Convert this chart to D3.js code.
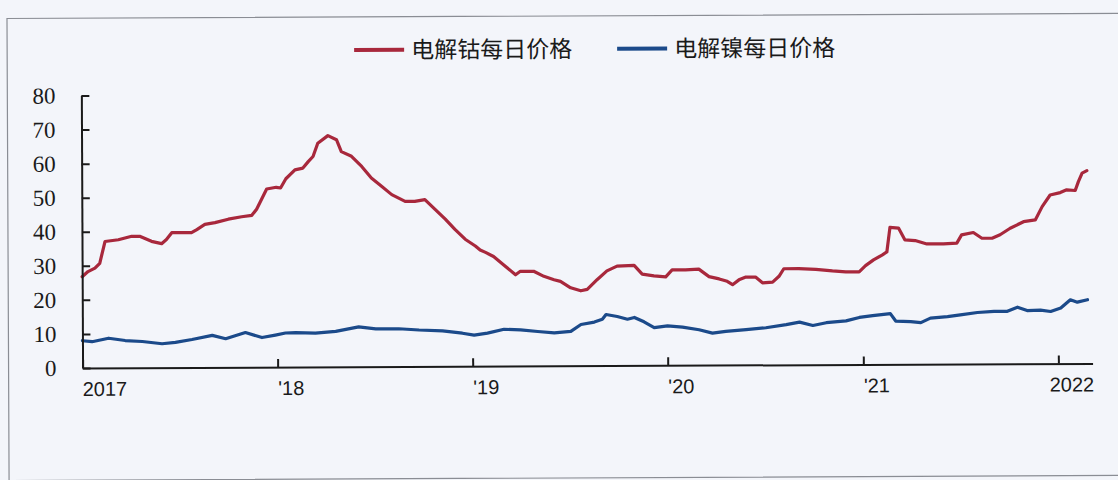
<!DOCTYPE html>
<html>
<head>
<meta charset="utf-8">
<script src="https://cdn.jsdelivr.net/npm/d3@7/dist/d3.min.js"></script>
<style>
  html, body { margin: 0; padding: 0; background: #f3f5fa; }
  svg { display: block; }
</style>
</head>
<body>
<svg id="chart" width="1118" height="480"></svg>
<script>
// 电解钴 / 电解镍 每日价格 (万元/吨)
const cobaltDates = [
  "2017-01-01","2017-01-12","2017-01-25","2017-02-03","2017-02-13","2017-03-10","2017-04-04","2017-04-19",
  "2017-05-11","2017-05-30","2017-06-08","2017-06-18","2017-07-25","2017-08-04","2017-08-19","2017-09-07",
  "2017-10-02","2017-10-27","2017-11-15","2017-11-24","2017-12-13","2017-12-31","2018-01-08","2018-01-18",
  "2018-02-04","2018-02-19","2018-03-01","2018-03-10","2018-03-19","2018-04-07","2018-04-23","2018-05-02",
  "2018-05-21","2018-06-09","2018-06-27","2018-07-16","2018-08-04","2018-08-29","2018-09-16","2018-10-05",
  "2018-10-24","2018-11-12","2018-11-30","2018-12-19","2019-01-07","2019-01-16","2019-01-26","2019-02-10",
  "2019-03-01","2019-03-23","2019-04-01","2019-04-26","2019-05-15","2019-06-03","2019-06-15","2019-07-04",
  "2019-07-23","2019-08-04","2019-08-23","2019-09-10","2019-09-29","2019-10-31","2019-11-15","2019-12-07",
  "2019-12-29","2020-01-10","2020-02-04","2020-02-29","2020-03-19","2020-04-07","2020-04-22","2020-05-02",
  "2020-05-14","2020-05-27","2020-06-14","2020-06-27","2020-07-16","2020-07-28","2020-08-06","2020-09-03",
  "2020-10-05","2020-11-05","2020-11-30","2020-12-25","2021-01-06","2021-01-21","2021-02-06","2021-02-15",
  "2021-02-21","2021-03-09","2021-03-21","2021-04-09","2021-05-01","2021-06-01","2021-06-26","2021-07-05",
  "2021-07-27","2021-08-12","2021-08-31","2021-09-15","2021-10-04","2021-10-29","2021-11-20","2021-12-03",
  "2021-12-18","2022-01-06","2022-01-18","2022-02-03","2022-02-09","2022-02-16","2022-02-25"
];
const cobaltValues = [
  26.8, 28.3, 29.3, 30.7, 37.1, 37.6, 38.6, 38.6,
  37.1, 36.4, 37.6, 39.6, 39.6, 40.5, 42.0, 42.5,
  43.5, 44.2, 44.6, 46.4, 52.3, 52.8, 52.6, 55.3,
  57.9, 58.4, 60.3, 61.8, 65.7, 67.9, 66.7, 63.2,
  61.8, 58.8, 55.4, 53.0, 50.5, 48.5, 48.5, 49.0,
  46.1, 43.2, 40.2, 37.3, 35.3, 34.1, 33.4, 32.2,
  29.7, 26.8, 27.8, 27.8, 26.3, 25.3, 24.8, 22.9,
  22.0, 22.4, 25.3, 27.8, 29.2, 29.4, 26.8, 26.3,
  26.0, 28.0, 28.0, 28.2, 26.0, 25.3, 24.6, 23.6,
  25.0, 25.8, 25.8, 24.1, 24.3, 26.0, 28.2, 28.2,
  28.0, 27.5, 27.2, 27.2, 29.0, 30.7, 32.1, 33.0,
  40.2, 40.0, 36.5, 36.3, 35.3, 35.3, 35.5, 37.9,
  38.6, 36.9, 36.9, 37.9, 39.8, 41.7, 42.2, 46.1,
  49.5, 50.2, 51.0, 50.8, 53.4, 55.9, 56.6
];

const nickelDates = [
  "2017-01-01","2017-01-19","2017-02-19","2017-03-22","2017-04-23","2017-05-30","2017-06-24","2017-07-25",
  "2017-09-01","2017-09-26","2017-11-02","2017-12-03","2017-12-28","2018-01-16","2018-02-04","2018-03-13",
  "2018-04-20","2018-06-02","2018-07-04","2018-08-16","2018-09-23","2018-11-06","2018-12-13","2019-01-04",
  "2019-01-29","2019-03-01","2019-04-01","2019-05-03","2019-06-03","2019-07-04","2019-07-23","2019-08-17",
  "2019-09-01","2019-09-08","2019-09-29","2019-10-18","2019-10-31","2019-11-18","2019-12-07","2020-01-01",
  "2020-01-29","2020-02-29","2020-03-25","2020-04-19","2020-05-27","2020-07-03","2020-08-10","2020-09-04",
  "2020-09-29","2020-10-24","2020-11-30","2020-12-25","2021-01-19","2021-02-21","2021-03-03","2021-03-31",
  "2021-04-19","2021-05-07","2021-06-08","2021-07-02","2021-08-03","2021-09-03","2021-09-28","2021-10-17",
  "2021-11-04","2021-11-29","2021-12-18","2022-01-06","2022-01-24","2022-02-06","2022-02-25"
];
const nickelValues = [
  8.0, 7.7, 8.7, 8.0, 7.7, 7.0, 7.4, 8.2,
  9.4, 8.4, 10.2, 8.7, 9.4, 10.0, 10.1, 9.9,
  10.4, 11.7, 11.1, 11.1, 10.7, 10.4, 9.7, 9.1,
  9.7, 10.8, 10.6, 10.1, 9.7, 10.1, 12.1, 12.8,
  13.6, 15.0, 14.4, 13.6, 14.1, 12.8, 11.1, 11.6,
  11.2, 10.4, 9.4, 9.9, 10.4, 10.9, 11.8, 12.5,
  11.5, 12.3, 12.8, 13.8, 14.3, 14.9, 12.7, 12.5,
  12.2, 13.5, 13.9, 14.4, 15.1, 15.4, 15.4, 16.6,
  15.6, 15.7, 15.3, 16.3, 18.7, 18.0, 18.7
];

const yTicks = [0, 10, 20, 30, 40, 50, 60, 70, 80];
const xTickYears = ["2017", "2018", "2019", "2020", "2021", "2022"];
const xTickLabels = ["2017", "'18", "'19", "'20", "'21", "2022"];
const seriesNames = ["电解钴每日价格", "电解镍每日价格"];
const seriesColors = ["#a8283c", "#1b4a8a"];

const parse = d3.timeParse("%Y-%m-%d");
const cobalt = cobaltDates.map((d, i) => ({ date: parse(d), value: cobaltValues[i] }));
const nickel = nickelDates.map((d, i) => ({ date: parse(d), value: nickelValues[i] }));

const svg = d3.select("#chart");
svg.append("rect").attr("width", 1118).attr("height", 480).attr("fill", "#f3f5fa");

// whole page sits very slightly tilted
const root = svg.append("g").attr("transform", "rotate(-0.26 559 240)");

// outer frame
root.append("rect")
  .attr("x", 8).attr("y", 16).attr("width", 1200).attr("height", 462)
  .attr("fill", "none").attr("stroke", "#8a8d94").attr("stroke-width", 1.2);

const x = d3.scaleTime()
  .domain([new Date(2017, 0, 1), new Date(2022, 2, 6)])
  .range([82, 1092]);
const y = d3.scaleLinear().domain([0, 80]).range([365.8, 93.4]);

// series lines
const line = d3.line().x(d => x(d.date)).y(d => y(d.value)).curve(d3.curveLinear);
[cobalt, nickel].forEach((s, i) => {
  root.append("path")
    .datum(s)
    .attr("fill", "none")
    .attr("stroke", seriesColors[i])
    .attr("stroke-width", 3.2)
    .attr("stroke-linejoin", "round")
    .attr("stroke-linecap", "round")
    .attr("d", line);
});

// y axis
const yAxis = root.append("g")
  .attr("transform", `translate(${x.range()[0]},0)`)
  .call(d3.axisLeft(y).tickValues(yTicks).tickSizeInner(-8).tickSizeOuter(0).tickPadding(26));
yAxis.select(".domain").attr("stroke", "#1a1a1a").attr("stroke-width", 2);
yAxis.selectAll(".tick line").attr("stroke", "#1a1a1a").attr("stroke-width", 2);
yAxis.selectAll(".tick text")
  .attr("font-family", "'Liberation Serif', 'Times New Roman', serif")
  .attr("font-size", 23)
  .attr("fill", "#1a1a1a");

// x axis
const yearTicks = xTickYears.map(s => new Date(+s, 0, 1));
const xAxis = root.append("g")
  .attr("transform", `translate(0,${y(0)})`)
  .call(d3.axisBottom(x).tickValues(yearTicks).tickSizeInner(-8).tickSizeOuter(0)
    .tickFormat((d, i) => xTickLabels[i]));
xAxis.select(".domain").attr("stroke", "#1a1a1a").attr("stroke-width", 2);
xAxis.selectAll(".tick line").attr("stroke", "#1a1a1a").attr("stroke-width", 2);
xAxis.selectAll(".tick text")
  .attr("font-family", "'Liberation Sans', Arial, sans-serif")
  .attr("font-size", 20)
  .attr("fill", "#1a1a1a")
  .attr("y", 28)
  .attr("dy", 0)
  .attr("text-anchor", "middle")
  .attr("x", function () {
    const w = this.getComputedTextLength();
    const tickX = +this.parentNode.getAttribute("transform").match(/translate\(([-\d.]+)/)[1];
    return Math.max(13, x.range()[0] - tickX + w / 2);
  });

// legend
const legend = root.append("g").attr("transform", "translate(0,49)");
const legendX = [355, 618];
seriesNames.forEach((name, i) => {
  const g = legend.append("g").attr("transform", `translate(${legendX[i]},0)`);
  g.append("line").attr("x1", 0).attr("x2", 50).attr("y1", 0).attr("y2", 0)
    .attr("stroke", seriesColors[i]).attr("stroke-width", 4);
  g.append("text")
    .attr("x", 57).attr("y", 0).attr("dy", "0.36em")
    .attr("font-family", "'Noto Sans CJK SC', sans-serif")
    .attr("font-size", 23)
    .attr("fill", "#1a1a1a")
    .text(name);
});
</script>
</body>
</html>
